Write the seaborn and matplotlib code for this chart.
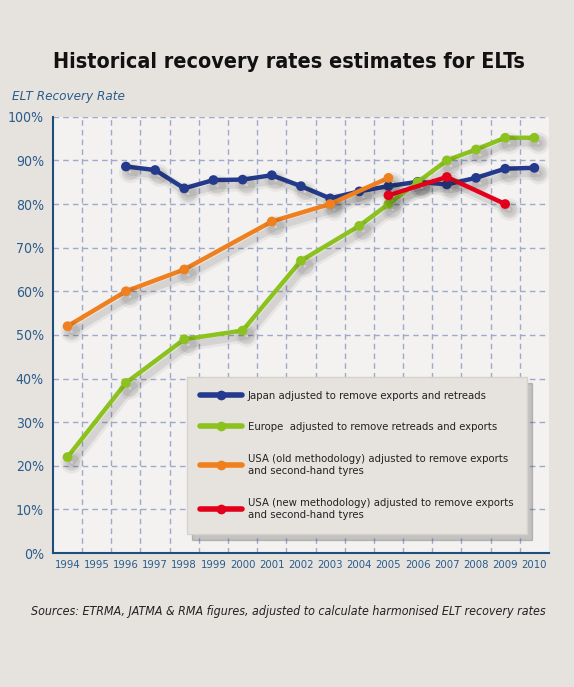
import matplotlib
matplotlib.use("Agg")
import matplotlib.pyplot as plt
import matplotlib.patheffects as pe
from matplotlib import font_manager as fm
import pandas as pd
import seaborn as sns

# data
years = list(range(1994, 2011))

japan_years = [1996, 1997, 1998, 1999, 2000, 2001, 2002, 2003, 2004, 2005, 2006, 2007, 2008, 2009, 2010]
japan_rate = [88.6, 87.8, 83.6, 85.5, 85.6, 86.6, 84.1, 81.3, 82.9, 84.1, 85.1, 84.5, 86.0, 88.1, 88.3]

europe_years = [1994, 1996, 1998, 2000, 2002, 2004, 2005, 2006, 2007, 2008, 2009, 2010]
europe_rate = [22, 39, 49, 51, 67, 75, 80, 85, 90, 92.5, 95.2, 95.2]

usa_old_years = [1994, 1996, 1998, 2001, 2003, 2005]
usa_old_rate = [52, 60, 65, 76, 80, 86]

usa_new_years = [2005, 2007, 2009]
usa_new_rate = [82, 86.2, 80]

series_names = [
    "Japan adjusted to remove exports and retreads",
    "Europe  adjusted to remove retreads and exports",
    "USA (old methodology) adjusted to remove exports\nand second-hand tyres",
    "USA (new methodology) adjusted to remove exports\nand second-hand tyres",
]
series_colors = ["#243a8c", "#8cc21e", "#f07f1e", "#e4001b"]

title = "Historical recovery rates estimates for ELTs"
y_caption = "ELT Recovery Rate"
source = "Sources: ETRMA, JATMA & RMA figures, adjusted to calculate harmonised ELT recovery rates"

frames = []
for name, xs, ys in zip(series_names,
                        [japan_years, europe_years, usa_old_years, usa_new_years],
                        [japan_rate, europe_rate, usa_old_rate, usa_new_rate]):
    frames.append(pd.DataFrame({"year": xs, "rate": ys, "series": name}))
df = pd.concat(frames, ignore_index=True)


def pick_font():
    # the original uses a condensed sans; take whichever condensed face is installed
    options = [("Liberation Sans Narrow", "normal"), ("Noto Sans", "extra-condensed"),
               ("Noto Sans", "condensed"), ("DejaVu Sans", "condensed"),
               ("Roboto", "condensed"), ("Open Sans", "condensed")]
    for fam, st in options:
        try:
            path = fm.findfont(fm.FontProperties(family=fam, stretch=st), fallback_to_default=False)
        except ValueError:
            continue
        low = path.lower()
        if "narrow" in low or "condensed" in low:
            return fam, st
    return "Liberation Sans", "normal"


font_fam, font_stretch = pick_font()

sns.set_theme(style="white")
plt.rcParams["font.family"] = [font_fam, "DejaVu Sans"]
plt.rcParams["font.stretch"] = font_stretch

bg = "#e6e3df"
panel = "#f3f2f0"
blue_txt = "#2b5c8a"

fig = plt.figure(figsize=(5.74, 6.87), dpi=100, facecolor=bg)
renderer = fig.canvas.get_renderer()


def size_for(s, width_px, **kw):
    # font size that makes the string about as wide as in the reference
    t = fig.text(0, 0, s, fontsize=10, **kw)
    w = t.get_window_extent(renderer).width
    t.remove()
    return 10 * width_px / w


fs_title = size_for(title, 468, fontweight="bold")
fs_cap = size_for(y_caption, 112, style="italic")
fs_src = size_for(source, 514, style="italic")
fs_leg = size_for(series_names[0], 240)
fs_xt = size_for("1994", 25.5)
fs_yt = size_for("100%", 36)

ax = fig.add_axes([0.0923, 0.195, 0.864, 0.635])
ax.set_facecolor(panel)

shadow = [pe.SimpleLineShadow(offset=(3, -4), shadow_color="k", alpha=0.05, linewidth=9),
          pe.SimpleLineShadow(offset=(3, -4), shadow_color="k", alpha=0.09, linewidth=5),
          pe.Normal()]

for name, col in zip(series_names, series_colors):
    sub = df[df["series"] == name]
    sns.lineplot(data=sub, x="year", y="rate", ax=ax, color=col, lw=3.2,
                 marker="o", markersize=7, markeredgewidth=0, label=name,
                 path_effects=shadow, zorder=3)

ax.set_xlim(1993.5, 2010.5)
ax.set_ylim(0, 100)
ax.set_xticks(years)
ax.set_xticklabels([str(y) for y in years])
ax.set_yticks(range(0, 101, 10))
ax.set_yticklabels([f"{v}%" for v in range(0, 101, 10)])
ax.tick_params(axis="both", length=0, colors=blue_txt)
ax.tick_params(axis="x", pad=5, labelsize=fs_xt)
ax.tick_params(axis="y", pad=6.5, labelsize=fs_yt)
ax.set_xlabel("")
ax.set_ylabel("")

# dashed grid: horizontal at every 10%, vertical between years
for v in range(10, 101, 10):
    ax.axhline(v, color="#a0a8cc", lw=1, ls=(0, (4, 3)), zorder=1)
for y in years[:-1]:
    ax.axvline(y + 0.5, color="#a0a8cc", lw=1, ls=(0, (4, 3)), zorder=1)

for s in ["top", "right"]:
    ax.spines[s].set_visible(False)
for s in ["left", "bottom"]:
    ax.spines[s].set_color("#1d4f7c")
    ax.spines[s].set_linewidth(1.5)

leg = ax.legend(loc="upper left", bbox_to_anchor=(0.27, 0.403), frameon=True,
                facecolor=bg, edgecolor="#d6d3ce", framealpha=1, fontsize=fs_leg,
                labelspacing=1.9, handlelength=3.7, handletextpad=0.5,
                borderpad=1.2, borderaxespad=0, fancybox=False,
                shadow={"color": "#555555", "alpha": 0.3, "shade": 0.0, "ox": 4, "oy": -4})
for t in leg.get_texts():
    t.set_color("#222222")
    t.set_linespacing(1.35)
for h in leg.legend_handles:
    h.set_path_effects([])
    h.set_linewidth(4)

fig.text(0.5035, 0.9006, title, ha="center", va="baseline",
         fontsize=fs_title, fontweight="bold", color="#111111")
fig.text(0.0204, 0.8544, y_caption, ha="left", va="baseline",
         fontsize=fs_cap, style="italic", color=blue_txt)
fig.text(0.054, 0.105, source, ha="left", va="baseline",
         fontsize=fs_src, style="italic", color="#222222")

fig.savefig("out.png", dpi=100, facecolor=bg)
